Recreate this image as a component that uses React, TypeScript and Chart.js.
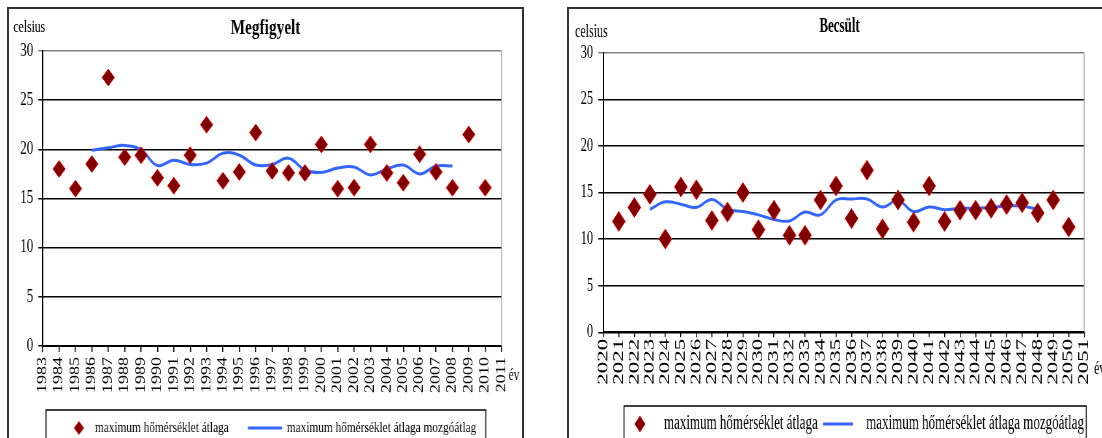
import React, { useEffect, useRef } from "react";
import { Chart, registerables } from "chart.js";

Chart.register(...registerables);

// ---------- data ----------
const observedYears = [
  "1983", "1984", "1985", "1986", "1987", "1988", "1989", "1990", "1991", "1992",
  "1993", "1994", "1995", "1996", "1997", "1998", "1999", "2000", "2001", "2002",
  "2003", "2004", "2005", "2006", "2007", "2008", "2009", "2010", "2011",
];
const observedValues = [
  null, 18.0, 16.0, 18.5, 27.3, 19.2, 19.4, 17.1, 16.3, 19.4,
  22.5, 16.8, 17.7, 21.7, 17.8, 17.6, 17.6, 20.5, 16.0, 16.1,
  20.5, 17.6, 16.6, 19.5, 17.7, 16.1, 21.5, 16.1, null,
];
const observedMoving = [
  null, null, null, 19.9, 20.15, 20.4, 19.95, 18.35, 18.9, 18.45,
  18.6, 19.6, 19.4, 18.4, 18.45, 19.1, 17.9, 17.65, 18.1, 18.2,
  17.4, 18.0, 18.4, 17.5, 18.3, 18.3, null, null, null,
];

const estimatedYears = [
  "2020", "2021", "2022", "2023", "2024", "2025", "2026", "2027", "2028", "2029",
  "2030", "2031", "2032", "2033", "2034", "2035", "2036", "2037", "2038", "2039",
  "2040", "2041", "2042", "2043", "2044", "2045", "2046", "2047", "2048", "2049",
  "2050", "2051",
];
const estimatedValues = [
  null, 11.9, 13.4, 14.8, 10.0, 15.6, 15.3, 12.0, 12.9, 15.0,
  11.0, 13.1, 10.4, 10.4, 14.2, 15.7, 12.2, 17.4, 11.1, 14.2,
  11.8, 15.7, 11.9, 13.1, 13.1, 13.3, 13.7, 13.9, 12.8, 14.2,
  11.3, null,
];
const estimatedMoving = [
  null, null, null, 13.2, 14.0, 13.75, 13.4, 14.25, 13.2, 12.95,
  12.6, 12.1, 11.95, 12.9, 12.6, 14.2, 14.3, 14.3, 13.45, 14.15,
  12.95, 13.45, 13.15, 13.3, 13.3, 13.4, 13.55, 13.55, 13.2, null,
  null, null,
];

const yMin = 0;
const yMax = 30;
const yStep = 5;

const seriesLabel = "maximum hőmérséklet átlaga";
const movingLabel = "maximum hőmérséklet átlaga mozgóátlag";
const unitLabel = "celsius";
const axisLabel = "év";

// ---------- styles ----------
const SERIF = '"Liberation Serif", "Times New Roman", serif';
const DIAMOND_FILL = "#800000";
const DIAMOND_EDGE = "#ff0000";
const LINE_BLUE = "#3366ff";

type Layout = {
  sx: number;
  dispW: number;
  canvasH: number;
  plotLeft: number;
  padRight: number;
  padBottom: number;
  xAxisH: number;
  titleFont: number;
  titlePadTop: number;
  titlePadBottom: number;
  yFont: number;
  yTickLen: number;
  yPad: number;
  xFont: number;
  xTickLen: number;
  xPad: number;
  pointR: number;
  unitFont: number;
  unitX: number;
  unitY: number;
  evFont: number;
  evX: number;
  evY: number;
  lg: {
    x0: number; x1: number; top: number; cy: number; dotX: number; dotR: number;
    t1: number; l0: number; l1: number; t2: number; font: number;
  };
};

const leftLayout: Layout = {
  sx: 0.73,
  dispW: 513,
  canvasH: 430,
  plotLeft: 46.2,
  padRight: 28,
  padBottom: 33,
  xAxisH: 60,
  titleFont: 21,
  titlePadTop: 7.4,
  titlePadBottom: 9.4,
  yFont: 18,
  yTickLen: 6,
  yPad: 7,
  xFont: 18,
  xTickLen: 6,
  xPad: 5,
  pointR: 8.5,
  unitFont: 16,
  unitX: 6,
  unitY: 22.7,
  evFont: 16,
  evX: 692,
  evY: 367,
  lg: { x0: 50.7, x1: 653.4, top: 401, cy: 419, dotX: 95.9, dotR: 6.5, t1: 117.8, l0: 327.4, l1: 374, t2: 380.8, font: 15.5 },
};

const rightLayout: Layout = {
  sx: 0.65,
  dispW: 541,
  canvasH: 430,
  plotLeft: 52.8,
  padRight: 39.7,
  padBottom: 46.7,
  xAxisH: 60,
  titleFont: 20,
  titlePadTop: 6.3,
  titlePadBottom: 13.4,
  yFont: 19,
  yTickLen: 7.7,
  yPad: 8,
  xFont: 23,
  xTickLen: 5,
  xPad: 1.5,
  pointR: 10,
  unitFont: 18.5,
  unitX: 9.2,
  unitY: 27.7,
  evFont: 18,
  evX: 816,
  evY: 360,
  lg: { x0: 84.6, x1: 795.4, top: 397, cy: 415, dotX: 109.2, dotR: 8, t1: 146, l0: 390.8, l1: 437, t2: 457, font: 20 },
};

type Props = {
  title: string;
  labels: string[];
  values: (number | null)[];
  moving: (number | null)[];
  L: Layout;
};

function TempChart({ title, labels, values, moving, L }: Props) {
  const ref = useRef<HTMLCanvasElement | null>(null);
  const canvasW = Math.round(L.dispW / L.sx);

  useEffect(() => {
    const canvas = ref.current;
    if (!canvas) return;

    const decor = {
      id: "decor",
      beforeDatasetsDraw(chart: any) {
        const { ctx, chartArea: a } = chart;
        ctx.save();
        ctx.strokeStyle = "#a6a6a6";
        ctx.lineWidth = 1.5;
        ctx.beginPath();
        ctx.moveTo(a.right, a.top);
        ctx.lineTo(a.right, a.bottom);
        ctx.stroke();
        ctx.restore();
      },
      afterDraw(chart: any) {
        const ctx = chart.ctx as CanvasRenderingContext2D;
        const ds = chart.data.datasets;
        const g = L.lg;
        ctx.save();
        ctx.fillStyle = "#000";
        ctx.font = `${L.unitFont}px ${SERIF}`;
        ctx.textAlign = "left";
        ctx.textBaseline = "alphabetic";
        ctx.fillText(unitLabel, L.unitX, L.unitY);

        ctx.font = `${L.evFont}px ${SERIF}`;
        ctx.textAlign = "center";
        ctx.textBaseline = "middle";
        ctx.fillText(axisLabel, L.evX, L.evY);

        // legend frame
        ctx.strokeStyle = "#000";
        ctx.lineWidth = 1.5;
        ctx.strokeRect(g.x0, g.top, g.x1 - g.x0, chart.height + 20 - g.top);

        // diamond marker
        ctx.beginPath();
        ctx.moveTo(g.dotX - g.dotR, g.cy);
        ctx.lineTo(g.dotX, g.cy - g.dotR);
        ctx.lineTo(g.dotX + g.dotR, g.cy);
        ctx.lineTo(g.dotX, g.cy + g.dotR);
        ctx.closePath();
        ctx.fillStyle = ds[0].pointBackgroundColor;
        ctx.fill();
        ctx.strokeStyle = ds[0].pointBorderColor;
        ctx.lineWidth = 1;
        ctx.stroke();

        // line sample
        ctx.beginPath();
        ctx.moveTo(g.l0, g.cy);
        ctx.lineTo(g.l1, g.cy);
        ctx.strokeStyle = ds[1].borderColor;
        ctx.lineWidth = 3;
        ctx.stroke();

        ctx.fillStyle = "#000";
        ctx.font = `${g.font}px ${SERIF}`;
        ctx.textAlign = "left";
        ctx.textBaseline = "middle";
        ctx.fillText(ds[0].label, g.t1, g.cy);
        ctx.fillText(ds[1].label, g.t2, g.cy);
        ctx.restore();
      },
    };

    const chart = new Chart(canvas, {
      type: "line",
      data: {
        labels,
        datasets: [
          {
            label: seriesLabel,
            data: values,
            showLine: false,
            pointStyle: "rectRot",
            pointRadius: L.pointR,
            pointHoverRadius: L.pointR,
            pointBackgroundColor: DIAMOND_FILL,
            pointBorderColor: DIAMOND_EDGE,
            pointBorderWidth: 1,
            borderColor: DIAMOND_EDGE,
            backgroundColor: DIAMOND_FILL,
            order: 0,
          },
          {
            label: movingLabel,
            data: moving,
            borderColor: LINE_BLUE,
            backgroundColor: LINE_BLUE,
            borderWidth: 3,
            pointRadius: 0,
            tension: 0.4,
            fill: false,
            order: 1,
          },
        ],
      },
      options: {
        responsive: false,
        animation: false,
        events: [],
        layout: { padding: { left: 0, right: 0, top: 0, bottom: L.padBottom } },
        plugins: {
          legend: { display: false },
          tooltip: { enabled: false },
          title: {
            display: true,
            text: title,
            color: "#000",
            font: { family: SERIF, size: L.titleFont, weight: "bold" },
            padding: { top: L.titlePadTop, bottom: L.titlePadBottom },
          },
        },
        scales: {
          x: {
            type: "category",
            offset: false,
            grid: {
              display: true,
              drawOnChartArea: false,
              drawTicks: true,
              tickLength: L.xTickLen,
              color: "#000",
              lineWidth: 1.5,
            },
            border: { display: true, color: "#000", width: 2 },
            ticks: {
              autoSkip: false,
              minRotation: 90,
              maxRotation: 90,
              padding: L.xPad,
              color: "#000",
              font: { family: SERIF, size: L.xFont },
            },
            afterFit: (s: any) => {
              s.height = L.xAxisH;
            },
          },
          y: {
            position: "left",
            min: yMin,
            max: yMax,
            ticks: {
              stepSize: yStep,
              padding: L.yPad,
              color: "#000",
              font: { family: SERIF, size: L.yFont },
            },
            grid: {
              color: (c: any) => (c.tick && c.tick.value === yMax ? "#808080" : "#000"),
              lineWidth: 1.5,
              tickLength: L.yTickLen,
              drawTicks: true,
            },
            border: { display: true, color: "#000", width: 2 },
            afterFit: (s: any) => {
              s.width = L.plotLeft;
            },
          },
          // empty spacer on the right so the title stays centred on the whole box
          yRight: {
            position: "right",
            min: yMin,
            max: yMax,
            display: true,
            ticks: { display: false },
            grid: { display: false, drawOnChartArea: false },
            border: { display: false },
            afterFit: (s: any) => {
              s.width = L.padRight;
            },
          },
        },
      } as any,
      plugins: [decor],
    });

    return () => chart.destroy();
  }, [title, labels, values, moving, L]);

  return (
    <canvas
      ref={ref}
      width={canvasW}
      height={L.canvasH}
      style={{ display: "block", width: `${L.dispW}px`, height: `${L.canvasH}px` }}
    />
  );
}

export default function App() {
  return (
    <div
      style={{
        position: "fixed",
        left: 0,
        top: 0,
        width: 1102,
        height: 438,
        overflow: "hidden",
        background: "#fff",
      }}
    >
      <div
        style={{
          position: "absolute",
          left: 7,
          top: 7,
          width: leftLayout.dispW,
          height: 460,
          border: "2px solid #333",
          overflow: "hidden",
        }}
      >
        <TempChart
          title="Megfigyelt"
          labels={observedYears}
          values={observedValues}
          moving={observedMoving}
          L={leftLayout}
        />
      </div>
      <div
        style={{
          position: "absolute",
          left: 567,
          top: 7,
          width: rightLayout.dispW + 20,
          height: 460,
          border: "2px solid #333",
          overflow: "hidden",
        }}
      >
        <TempChart
          title="Becsült"
          labels={estimatedYears}
          values={estimatedValues}
          moving={estimatedMoving}
          L={rightLayout}
        />
      </div>
    </div>
  );
}
